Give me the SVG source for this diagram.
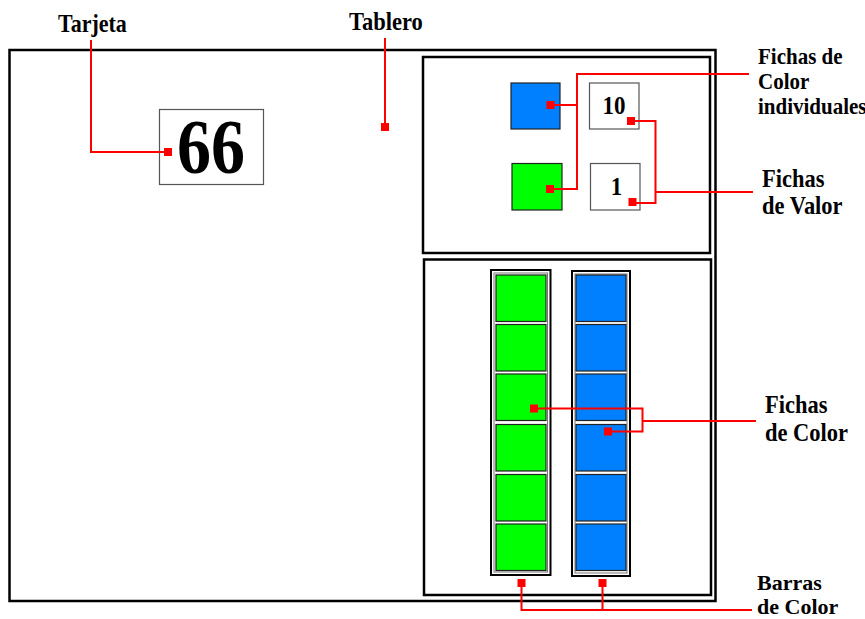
<svg xmlns="http://www.w3.org/2000/svg" width="865" height="619" viewBox="0 0 865 619">
<style>
.lbl{font-family:"Liberation Serif","Times New Roman",serif;font-weight:bold;fill:#000}
.panel{fill:#fff;stroke:#000;stroke-width:2.5}
.con{fill:none;stroke:#f00;stroke-width:2}
.mk{fill:#f00}
.g{fill:#00ff00;stroke:#222;stroke-width:1.2}
.b{fill:#0080ff;stroke:#222;stroke-width:1.2}
.bar{fill:#fff;stroke:#000;stroke-width:2}
.barin{fill:none;stroke:#777;stroke-width:1}
.vbox{fill:#fff;stroke:#555;stroke-width:1.2}
</style>
<rect width="865" height="619" fill="#fff"/>
<g id="tablero">
<rect x="9.5" y="50" width="706" height="551" fill="#fff" stroke="#000" stroke-width="2.5"/>
</g>
<g id="panel-superior">
<rect class="panel" x="423" y="57" width="287" height="196"/>
</g>
<g id="panel-inferior">
<rect class="panel" x="424" y="259.5" width="287" height="335.5"/>
</g>
<g id="tarjeta">
<rect x="159.5" y="109.5" width="104" height="75" fill="#fff" stroke="#555" stroke-width="1.2"/>
<text class="lbl" transform="translate(211,172.5) scale(1,1.14)" font-size="68" text-anchor="middle">66</text>
</g>
<g id="ficha-azul">
<rect class="b" x="511" y="83" width="49" height="46"/>
</g>
<g id="ficha-verde">
<rect class="g" x="512" y="163.5" width="50" height="46.5"/>
</g>
<g id="valor-10">
<rect class="vbox" x="589.5" y="83" width="49.5" height="46"/>
<text class="lbl" transform="translate(614,114) scale(1,1.12)" font-size="23" text-anchor="middle">10</text>
</g>
<g id="valor-1">
<rect class="vbox" x="590.5" y="163.5" width="49.5" height="46.5"/>
<text class="lbl" transform="translate(616.5,195) scale(1,1.12)" font-size="23" text-anchor="middle">1</text>
</g>
<g id="barra-verde">
<rect class="bar" x="491" y="270" width="59.5" height="305"/>
<rect class="barin" x="494" y="273" width="53.5" height="299"/>
<rect class="g" x="496" y="275" width="50" height="46.5"/>
<rect class="g" x="496" y="324.5" width="50" height="46.5"/>
<rect class="g" x="496" y="374" width="50" height="46.5"/>
<rect class="g" x="496" y="424.5" width="50" height="46.5"/>
<rect class="g" x="496" y="474.5" width="50" height="46.5"/>
<rect class="g" x="496" y="524" width="50" height="46.5"/>
</g>
<g id="barra-azul">
<rect class="bar" x="572" y="271" width="58" height="305"/>
<rect class="barin" x="575" y="274" width="52" height="299"/>
<rect class="b" x="576" y="275" width="50" height="46.5"/>
<rect class="b" x="576" y="324.5" width="50" height="46.5"/>
<rect class="b" x="576" y="374" width="50" height="46.5"/>
<rect class="b" x="576" y="424.5" width="50" height="46.5"/>
<rect class="b" x="576" y="474.5" width="50" height="46.5"/>
<rect class="b" x="576" y="524" width="50" height="46.5"/>
</g>
<g id="connectors">
<polyline class="con" points="91,40 91,152 168,152"/>
<rect class="mk" x="164" y="148" width="8" height="8"/>
<polyline class="con" points="385,38 385,127"/>
<rect class="mk" x="381" y="123" width="8" height="8"/>
<polyline class="con" points="551,105 577,105"/>
<polyline class="con" points="551,189 577,189 577,74 749,74"/>
<rect class="mk" x="546.5" y="101" width="8" height="8"/>
<rect class="mk" x="546" y="185" width="8" height="8"/>
<polyline class="con" points="631,121 655.5,121 655.5,203 633,203"/>
<polyline class="con" points="655.5,192 753,192"/>
<rect class="mk" x="627" y="117" width="8" height="8"/>
<rect class="mk" x="628.5" y="198" width="8" height="8"/>
<polyline class="con" points="534,408.5 642.5,408.5 642.5,431.5 608,431.5"/>
<polyline class="con" points="642.5,421 756,421"/>
<rect class="mk" x="530" y="404.5" width="8" height="8"/>
<rect class="mk" x="604" y="427.5" width="8" height="8"/>
<polyline class="con" points="521.5,583 521.5,610 752,610"/>
<polyline class="con" points="602.5,583 602.5,610"/>
<rect class="mk" x="517.5" y="579" width="8" height="8"/>
<rect class="mk" x="598.5" y="579" width="8" height="8"/>
</g>
<g id="labels">
<text class="lbl" transform="translate(58,31.5) scale(1,1.13)" font-size="22">Tarjeta</text>
<text class="lbl" transform="translate(349,29.5) scale(1,1.13)" font-size="22.5">Tablero</text>
<text class="lbl" font-size="21" transform="translate(758,64) scale(1,1.1)">Fichas de</text>
<text class="lbl" font-size="21" transform="translate(758,89) scale(1,1.1)">Color</text>
<text class="lbl" font-size="21" transform="translate(758,113.5) scale(1,1.1)">individuales</text>
<text class="lbl" font-size="22.5" transform="translate(762,187) scale(1,1.12)">Fichas</text>
<text class="lbl" font-size="22.5" transform="translate(762,214) scale(1,1.12)">de Valor</text>
<text class="lbl" font-size="22.5" transform="translate(765,413) scale(1,1.12)">Fichas</text>
<text class="lbl" font-size="22.5" transform="translate(765,440.5) scale(1,1.12)">de Color</text>
<text class="lbl" font-size="22" transform="translate(757,590)">Barras</text>
<text class="lbl" font-size="22" transform="translate(757,614)">de Color</text>
</g>
</svg>
